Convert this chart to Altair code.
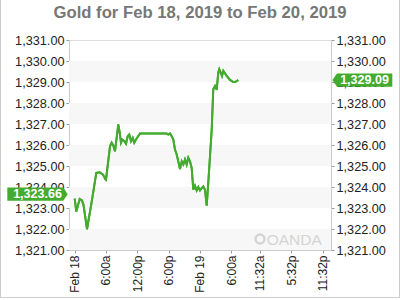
import altair as alt
import pandas as pd

# ---- data ----
hours = [0.0, 0.31, 0.96, 1.40, 1.69, 2.36, 3.32, 4.14, 4.79, 5.42, 5.86, 6.00,
         6.77, 7.09, 7.40, 7.72, 8.36, 8.68, 8.87, 9.12, 9.51, 9.83, 10.16, 10.46,
         10.79, 11.12, 11.42, 11.75, 12.51, 17.63, 17.94, 18.26, 18.59, 18.90, 19.22,
         19.55, 19.85, 20.18, 20.51, 20.82, 21.14, 21.46, 21.77, 22.10, 22.42, 22.73,
         23.05, 23.38, 23.69, 24.01, 24.34, 24.65, 24.97, 25.30, 25.60, 25.93, 26.26,
         26.56, 26.89, 27.21, 27.52, 27.71, 27.98, 28.23, 28.48, 29.13, 29.76, 30.40,
         30.72, 31.35]
prices = [1323.45, 1322.83, 1323.43, 1323.36, 1323.15, 1321.99, 1323.39, 1324.67,
          1324.70, 1324.59, 1324.38, 1324.35, 1325.94, 1326.11, 1325.98, 1325.70,
          1326.98, 1326.50, 1326.11, 1326.26, 1326.18, 1326.06, 1326.42, 1326.50,
          1326.18, 1326.34, 1326.11, 1326.26, 1326.55, 1326.55, 1326.50, 1326.55,
          1326.42, 1326.26, 1325.78, 1325.55, 1325.22, 1324.86, 1325.22, 1325.07,
          1325.31, 1325.07, 1325.39, 1325.22, 1324.91, 1323.87, 1324.06, 1323.84,
          1324.00, 1323.84, 1323.95, 1324.03, 1323.87, 1323.11, 1324.19, 1325.46,
          1326.74, 1328.66, 1328.81, 1328.62, 1329.45, 1329.61, 1329.45, 1329.29,
          1329.53, 1329.29, 1329.10, 1329.00, 1329.00, 1329.09]
tick_hours = [0, 6, 12, 18, 24, 30, 35.5, 41.5, 47.5]
tick_labels = ["Feb 18", "6:00a", "12:00p", "6:00p", "Feb 19", "6:00a",
               "11:32a", "5:32p", "11:32p"]
y_ticks = [1321, 1322, 1323, 1324, 1325, 1326, 1327, 1328, 1329, 1330, 1331]
band_lo = [1321, 1323, 1325, 1327, 1329]
open_price = [1323.66]
last_price = [1329.09]
title_text = ["Gold for Feb 18, 2019 to Feb 20, 2019"]
watermark = ["OANDA"]

GREEN = "#43ab2e"
FONT = "Liberation Sans"
W, H = 262, 210

df = pd.DataFrame({"h": hours, "p": prices})
bands = pd.DataFrame({"lo": band_lo, "hi": [b + 1 for b in band_lo]})

xs = alt.Scale(domain=[-1.09, 49.12], nice=False, zero=False)
ys = alt.Scale(domain=[1321, 1331], nice=False, zero=False)

# build label lookup expression from the tick lists
expr = "''"
for v, l in reversed(list(zip(tick_hours, tick_labels))):
    expr = f"(abs(datum.value - {v}) < 0.01 ? '{l}' : {expr})"

x_axis = alt.Axis(values=tick_hours, labelExpr=expr,
                  labelAngle=270, title=None, grid=False, tickSize=3, labelPadding=2,
                  domainColor="#cccccc", tickColor="#999999", labelFont=FONT,
                  labelFontSize=12, labelColor="#222222", labelOverlap=False)

def y_axis(orient):
    return alt.Axis(orient=orient, values=y_ticks, format=",.2f", title=None, grid=False,
                    tickSize=3, labelPadding=2, domainColor="#cccccc", tickColor="#999999",
                    labelFont=FONT, labelFontSize=12.7, labelColor="#222222")

band_layer = alt.Chart(bands).mark_rect(color="#f7f7f7").encode(
    x=alt.value(0), x2=alt.value(W),
    y=alt.Y("lo:Q", scale=ys, axis=None), y2="hi:Q")

line_left = alt.Chart(df).mark_line(color=GREEN, strokeWidth=2).encode(
    x=alt.X("h:Q", scale=xs, axis=x_axis),
    y=alt.Y("p:Q", scale=ys, axis=y_axis("left")))

line_right = alt.Chart(df).mark_line(color=GREEN, strokeWidth=2).encode(
    x=alt.X("h:Q", scale=xs, axis=x_axis),
    y=alt.Y("p:Q", scale=ys, axis=y_axis("right")))

S = 6.6
SIZE = (2 * S) ** 2
left_path = "M-4.5,-1L3.98,-1L4.65,0L3.98,1L-4.5,1Z"
right_path = "M-4.8,0L-4.09,-1L4.29,-1L4.29,1L-4.09,1Z"

open_df = pd.DataFrame({"p": open_price, "t": ["{:,.2f}".format(v) for v in open_price]})
last_df = pd.DataFrame({"p": last_price, "t": ["{:,.2f}".format(v) for v in last_price]})

tag_left = alt.Chart(open_df).mark_point(shape=left_path, filled=True, size=SIZE,
                                         color=GREEN, opacity=1, strokeWidth=0).encode(
    x=alt.value(37 - 69), y=alt.Y("p:Q", scale=ys, axis=None))
tag_left_t = alt.Chart(open_df).mark_text(font=FONT, fontSize=12.5, fontWeight="bold",
                                          color="white", align="center", baseline="middle").encode(
    x=alt.value(37.5 - 69), y=alt.Y("p:Q", scale=ys, axis=None), text="t:N")

tag_right = alt.Chart(last_df).mark_point(shape=right_path, filled=True, size=SIZE,
                                          color=GREEN, opacity=1, strokeWidth=0).encode(
    x=alt.value(364 - 69), y=alt.Y("p:Q", scale=ys, axis=None))
tag_right_t = alt.Chart(last_df).mark_text(font=FONT, fontSize=12.5, fontWeight="bold",
                                           color="white", align="center", baseline="middle").encode(
    x=alt.value(364.5 - 69), y=alt.Y("p:Q", scale=ys, axis=None), text="t:N")

title_layer = alt.Chart(pd.DataFrame({"t": title_text})).mark_text(
    font=FONT, fontSize=16.7, fontWeight="bold", color="#777777",
    align="center", baseline="alphabetic").encode(
    x=alt.value(W / 2), y=alt.value(-21.7), text="t:N")

wm_layer = alt.Chart(pd.DataFrame({"t": watermark})).mark_text(
    font=FONT, fontSize=15.5, color="#d4d4d4", align="left", baseline="alphabetic").encode(
    x=alt.value(197.7), y=alt.value(205), text="t:N")
wm_logo = alt.Chart(pd.DataFrame({"t": watermark})).mark_point(
    shape="circle", size=80, color="#d4d4d4", filled=False, strokeWidth=2.5, opacity=1).encode(
    x=alt.value(191), y=alt.value(199))

frame_l = alt.Chart(pd.DataFrame({"t": [0]})).mark_rule(color="#cccccc").encode(
    x=alt.value(-68.5), y=alt.value(-40), y2=alt.value(257.5))
frame_r = alt.Chart(pd.DataFrame({"t": [0]})).mark_rule(color="#cccccc").encode(
    x=alt.value(330.5), y=alt.value(-40), y2=alt.value(257.5))
frame_b = alt.Chart(pd.DataFrame({"t": [0]})).mark_rule(color="#cccccc").encode(
    x=alt.value(-68.5), x2=alt.value(330.5), y=alt.value(257.5))

chart = alt.layer(
    band_layer, wm_logo, wm_layer, line_left, line_right,
    tag_left, tag_left_t, tag_right, tag_right_t, title_layer,
    frame_l, frame_r, frame_b
).resolve_axis(y="independent").properties(
    width=W, height=H,
    autosize=alt.AutoSizeParams(type="none"),
    padding={"left": 69, "top": 40, "right": 69, "bottom": 50},
).configure_view(stroke="#cccccc", strokeWidth=1).configure(background="white")

chart.save("out.html", embed_options={"renderer": "svg", "actions": False})
